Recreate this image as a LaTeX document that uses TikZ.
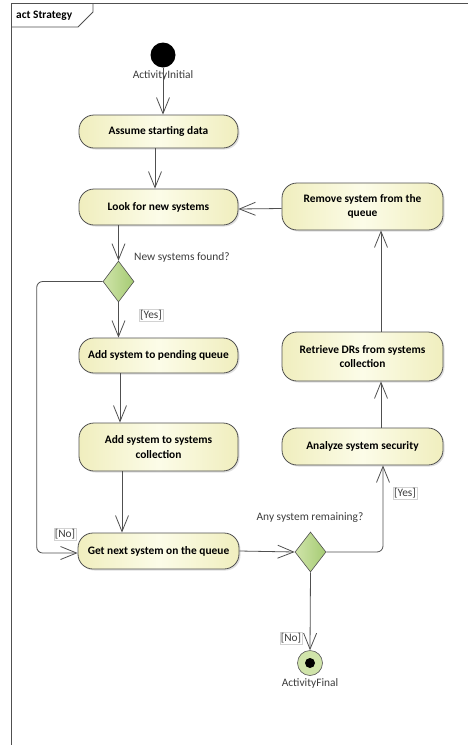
\documentclass[tikz,border=0pt]{standalone}
\usepackage{fontspec}
\setmainfont{Carlito}
\usetikzlibrary{shapes.geometric,arrows.meta,shadows}
\definecolor{linec}{RGB}{80,80,80}
\definecolor{boxa}{RGB}{240,238,190}
\definecolor{boxb}{RGB}{252,252,232}
\definecolor{grna}{RGB}{208,228,170}
\definecolor{grnb}{RGB}{165,203,115}
\definecolor{txtc}{RGB}{60,60,60}
\tikzset{
  act/.style={draw=linec, line width=0.8pt, rounded corners=15pt, left color=boxa, right color=boxa, middle color=boxb,
    minimum width=159pt, inner sep=2pt, align=center, font=\fontsize{11.4}{14.5}\selectfont\bfseries,
    drop shadow={shadow xshift=1.5pt, shadow yshift=-1.5pt, opacity=0.25}},
  dec/.style={diamond, draw=linec, line width=0.6pt, left color=grna, right color=grnb, minimum width=31pt, minimum height=41pt, inner sep=0pt},
  lbl/.style={font=\fontsize{11.4}{13}\selectfont, text=txtc, inner sep=1pt},
  guard/.style={font=\fontsize{11.4}{13}\selectfont, text=txtc, draw=gray!35, line width=0.4pt, inner sep=1pt},
  flow/.style={draw=linec, line width=0.8pt, -{Straight Barb[length=16pt,width=13pt,line width=0.8pt]}},
}
\begin{document}
\begin{tikzpicture}[x=1pt,y=-1pt]
\useasboundingbox (0,0) rectangle (467,745);
% frame
\draw[linec, line width=0.9pt] (470,3) -- (11,3) -- (11,748);
\draw[linec, line width=0.8pt] (11,27) -- (78,27) -- (93,12) -- (93,3);
\node[font=\fontsize{11.4}{13}\selectfont\bfseries, anchor=west, inner sep=0pt] (title) at (16,15.5) {act Strategy};
% nodes
\node[circle, fill=black, minimum size=25pt, inner sep=0pt] (init) at (163,55) {};
\node[lbl] (initlbl) at (163,75) {ActivityInitial};
\node[act, minimum height=33pt] (assume) at (158.5,131.5) {Assume starting data};
\node[act, minimum height=36pt] (look) at (158.5,207) {Look for new systems};
\node[act, minimum height=47pt, minimum width=161pt] (remove) at (362.5,206.5) {Remove system from the\\queue};
\node[dec] (d1) at (118.5,281.5) {};
\node[lbl, anchor=west] (q1) at (133,257) {New systems found?};
\node[act, minimum height=35pt] (pending) at (158.5,355.5) {Add system to pending queue};
\node[act, minimum height=49pt, minimum width=161pt] (retrieve) at (362.5,356.5) {Retrieve DRs from systems\\collection};
\node[act, minimum height=48pt] (coll) at (158.5,447) {Add system to systems\\collection};
\node[act, minimum height=37pt, minimum width=161pt] (analyze) at (362.5,446.5) {Analyze system security};
\node[act, minimum height=36pt, minimum width=161pt] (getnext) at (158.5,551) {Get next system on the queue};
\node[dec, minimum height=40pt] (d2) at (310.5,552) {};
\node[lbl] (q2) at (310,518) {Any system remaining?};
\node[circle, draw=gray!70!black, line width=0.6pt, fill=grna, minimum size=25pt, inner sep=0pt] (final) at (310,663) {};
\node[circle, fill=black, minimum size=10pt, inner sep=0pt] (finalin) at (final) {};
\node[lbl] (finallbl) at (310,683) {ActivityFinal};
% guards
\node[guard] (g1) at (151,315) {[Yes]};
\node[guard] (g2) at (65,534) {[No]};
\node[guard] (g3) at (405,493) {[Yes]};
\node[guard] (g4) at (291,638) {[No]};
% connectors
\draw[flow] (init.south) -- (init |- assume.north);
\draw[flow] ([xshift=-3.5pt]assume.south) -- ([xshift=-3.5pt]look.north);
\draw[flow] (look.south -| d1.north) -- (d1.north);
\draw[flow] (d1.south) -- (d1.south |- pending.north);
\draw[flow] ([xshift=-38.5pt]pending.south) -- ([xshift=-38.5pt]coll.north);
\draw[flow] ([xshift=-36.5pt]coll.south) -- ([xshift=-36.5pt]getnext.north);
\draw[flow, rounded corners=6pt] (d1.west) -- ++(-66,0) |- ([yshift=-2pt]getnext.west);
\draw[flow] (getnext.east) -- (d2.west);
\draw[flow, rounded corners=6pt] (d2.east) -| ([xshift=20.5pt]analyze.south);
\draw[flow] ([xshift=18.5pt]analyze.north) -- ([xshift=18.5pt]retrieve.south);
\draw[flow] ([xshift=18.5pt]retrieve.north) -- ([xshift=18.5pt]remove.south);
\draw[flow] ([yshift=-2pt]remove.west) -- ([yshift=-2pt]look.east);
\draw[flow] (d2.south) -- (final.north);
\end{tikzpicture}
\end{document}
